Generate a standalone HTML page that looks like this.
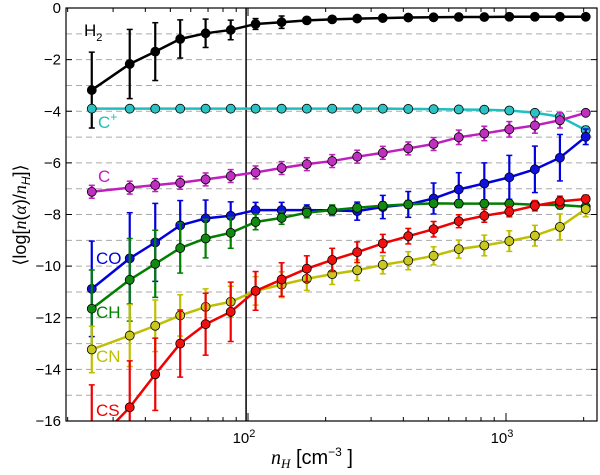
<!DOCTYPE html>
<html><head><meta charset="utf-8"><style>
html,body{margin:0;padding:0;background:#fff;width:600px;height:475px;overflow:hidden}
svg{display:block;font-family:"Liberation Sans","DejaVu Sans",sans-serif}
#wrap{position:relative;width:600px;height:475px;overflow:hidden}
</style></head><body>
<div id="wrap">
<svg id="chart" width="600" height="475"></svg>
</div>
<script>
const nH=[24.8,34.8,43.7,54.6,68.5,85.7,107,135,169,212,265,333,418,524,656,824,1030,1294,1618,2037];
const H2=[-3.18,-2.17,-1.69,-1.2,-0.98,-0.85,-0.62,-0.55,-0.48,-0.44,-0.41,-0.39,-0.37,-0.36,-0.35,-0.35,-0.34,-0.34,-0.34,-0.34];
const H2err=[1.47,1.34,1.12,0.74,0.55,0.38,0.21,0.24,0.06,0.05,0.05,0.05,0.04,0.04,0.04,0.04,0.04,0.04,0.04,0.04];
const Cp=[-3.9,-3.9,-3.9,-3.9,-3.9,-3.9,-3.9,-3.9,-3.9,-3.9,-3.9,-3.9,-3.91,-3.92,-3.93,-3.94,-3.97,-4.06,-4.21,-4.73];
const Cperr=[0.05,0.05,0.05,0.05,0.05,0.05,0.05,0.05,0.05,0.05,0.05,0.05,0.05,0.05,0.06,0.06,0.08,0.1,0.15,0.15];
const C=[-7.12,-6.96,-6.86,-6.77,-6.64,-6.51,-6.37,-6.2,-6.05,-5.93,-5.76,-5.61,-5.44,-5.27,-5.01,-4.86,-4.7,-4.55,-4.35,-4.06];
const Cerr=[0.25,0.25,0.25,0.25,0.25,0.25,0.25,0.25,0.25,0.25,0.25,0.25,0.25,0.25,0.28,0.28,0.3,0.3,0.3,0.1];
const CO=[-10.88,-9.7,-9.08,-8.42,-8.15,-8.05,-7.83,-7.83,-7.83,-7.84,-7.87,-7.71,-7.61,-7.38,-7.03,-6.8,-6.56,-6.25,-5.8,-4.99];
const COerr=[1.85,1.77,1.51,0.96,0.71,0.54,0.3,0.3,0.2,0.2,0.35,0.45,0.5,0.6,0.65,0.8,0.85,0.9,0.9,0.3];
const CH=[-11.65,-10.53,-9.91,-9.3,-8.93,-8.71,-8.29,-8.13,-7.93,-7.83,-7.74,-7.66,-7.61,-7.57,-7.58,-7.58,-7.58,-7.62,-7.63,-7.7];
const CHerr=[1.5,1.6,1.3,0.97,0.75,0.6,0.3,0.25,0.2,0.2,0.15,0.15,0.15,0.15,0.15,0.15,0.15,0.15,0.15,0.15];
const CN=[-13.23,-12.69,-12.31,-11.91,-11.58,-11.38,-10.96,-10.72,-10.49,-10.31,-10.16,-9.95,-9.79,-9.6,-9.34,-9.2,-9.03,-8.82,-8.48,-7.79];
const CNerr=[0.9,1.2,1.0,0.8,0.7,0.6,0.55,0.5,0.45,0.4,0.4,0.35,0.35,0.35,0.35,0.4,0.4,0.4,0.5,0.3];
const CS=[-17.0,-15.47,-14.19,-13.0,-12.25,-11.77,-10.96,-10.52,-10.1,-9.76,-9.46,-9.12,-8.84,-8.57,-8.26,-8.05,-7.89,-7.66,-7.49,-7.4];
const CSerr=[2.4,1.8,1.4,1.3,1.2,1.15,0.75,0.65,0.5,0.45,0.4,0.35,0.3,0.3,0.25,0.25,0.2,0.2,0.2,0.15];
const yTicks=[0,-2,-4,-6,-8,-10,-12,-14,-16];

const L=66,R=597,T=8,B=421;
const xs=v=>248+(Math.log10(v)-2)*258;
const ys=v=>T+(-v)*(B-T)/16;
const yc=v=>ys(Math.max(-17.5,Math.min(0.5,v)));
const NS="http://www.w3.org/2000/svg";
const svg=document.getElementById('chart');
function mk(tag,attrs,parent){const e=document.createElementNS(NS,tag);for(const k in attrs)e.setAttribute(k,attrs[k]);(parent||svg).appendChild(e);return e;}
const defs=mk('defs',{});const cp=mk('clipPath',{id:'clip'},defs);mk('rect',{x:L,y:T,width:R-L,height:B-T},cp);

for(let v=-1;v>=-15;v--){const g=mk('line',{x1:L,x2:R,y1:ys(v),y2:ys(v),stroke:'#aaa','stroke-dasharray':'6,4','stroke-width':1});

}
const vl=mk('line',{x1:xs(98.3),x2:xs(98.3),y1:T,y2:B,stroke:'#000','stroke-width':1.5});



const series=[['h2',H2,H2err,'#000','#000'],['c-plus',Cp,Cperr,'#1fbfbf','#2ac2c2'],['c',C,Cerr,'#bf1fbf','#c030c0'],['co',CO,COerr,'#0000e0','#1010e0'],['ch',CH,CHerr,'#007f00','#108a10'],['cn',CN,CNerr,'#bfbf00','#c8c820'],['cs',CS,CSerr,'#f00000','#f01010']];
const plot=mk('g',{'clip-path':'url(#clip)'});
series.forEach(([n,vals,err,col,fill])=>{
 const g=mk('g',{},plot);
 
 
 vals.forEach((v,i)=>{const x=xs(nH[i]);
  const lo=yc(v-err[i]),hi=yc(v+err[i]);
  const e=mk('line',{x1:x,x2:x,y1:lo,y2:hi,stroke:col,'stroke-width':2.2},g);
  
  
  mk('line',{x1:x-3,x2:x+3,y1:lo,y2:lo,stroke:col,'stroke-width':1.5},g);
  mk('line',{x1:x-3,x2:x+3,y1:hi,y2:hi,stroke:col,'stroke-width':1.5},g);});
 const p=mk('polyline',{points:vals.map((v,i)=>xs(nH[i])+','+ys(v)).join(' '),fill:'none',stroke:col,'stroke-width':2.5},g);
 
 
 vals.forEach((v,i)=>{const c=mk('circle',{cx:xs(nH[i]),cy:ys(v),r:4.5,fill:fill,stroke:'#000','stroke-width':0.8},g);
  
  });
});

const frame=mk('rect',{x:L,y:T,width:R-L,height:B-T,fill:'none',stroke:'#000','stroke-width':1.2});


yTicks.forEach(v=>{const y=ys(v);mk('line',{x1:L,x2:L+6,y1:y,y2:y,stroke:'#000'});mk('line',{x1:R-6,x2:R,y1:y,y2:y,stroke:'#000'});
 const t=mk('text',{x:L-5,y:y+5,'text-anchor':'end','font-size':15});t.textContent=v===0?'0':'\u2212'+(-v);
 
 });
for(let d=1;d<=3;d++)for(let m=1;m<10;m++){const v=m*Math.pow(10,d);const x=xs(v);if(x<L||x>R)continue;const len=m===1?8:4;
 mk('line',{x1:x,x2:x,y1:B,y2:B-len,stroke:'#000'});mk('line',{x1:x,x2:x,y1:T,y2:T+len,stroke:'#000'});
 if(m===1){const t=mk('text',{x:x-4,y:B+22,'text-anchor':'middle','font-size':15});t.innerHTML='10<tspan dy="-6" font-size="11">'+d+'</tspan>';
  
  }}

const labels=[['H',84,36,'#000','2'],['C',98,128,'#1fbfbf','+'],['C',98,182,'#bf1fbf',''],['CO',96,264,'#0000e0',''],['CH',96,318,'#007f00',''],['CN',96,362,'#bfbf00',''],['CS',96,416,'#f00000','']];
labels.forEach(([s,x,y,c,sub])=>{const t=mk('text',{x:x,y:y,fill:c,'font-size':17});
 t.innerHTML=s+(sub==='2'?'<tspan dy="5" font-size="11">2</tspan>':sub==='+'?'<tspan dy="-7" font-size="12">+</tspan>':'');
 
 });

const xl=mk('text',{x:312,y:464,'text-anchor':'middle','font-size':20});
xl.innerHTML='<tspan font-style="italic" font-family="Liberation Serif">n</tspan><tspan font-style="italic" font-size="13" dy="4" font-family="Liberation Serif">H</tspan><tspan dy="-4">  [cm</tspan><tspan dy="-8" font-size="12">−3</tspan><tspan dy="8"> ]</tspan>';


const yl=mk('text',{x:0,y:0,'text-anchor':'middle','font-size':18,transform:'translate(26,215) rotate(-90)'});
yl.innerHTML='⟨log[<tspan font-style="italic" font-family="Liberation Serif">n</tspan>(<tspan font-style="italic" font-family="Liberation Serif">α</tspan>)/<tspan font-style="italic" font-family="Liberation Serif">n</tspan><tspan font-size="12" dy="4" font-style="italic">H</tspan><tspan dy="-4">]⟩</tspan>';


</script>
</body></html>
